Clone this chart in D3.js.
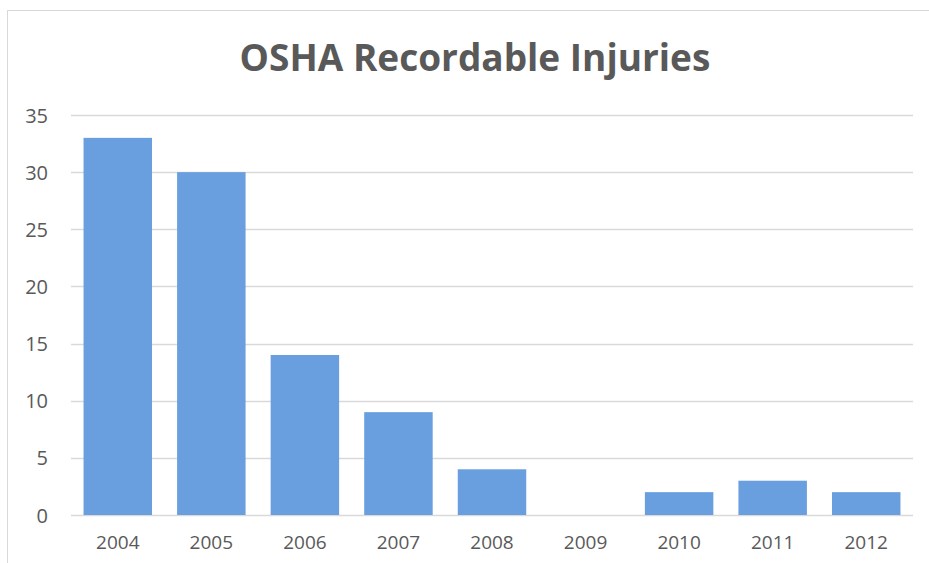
<!DOCTYPE html>
<html>
<head>
<meta charset="utf-8">
<script src="https://cdn.jsdelivr.net/npm/d3@7"></script>
<style>
  body { margin: 0; background: #fff; }
  text { font-family: "Open Sans", sans-serif; fill: #595959; }
</style>
</head>
<body>
<div id="chart"></div>
<script>
// datos
const years = ["2004","2005","2006","2007","2008","2009","2010","2011","2012"]
const injuries = [33, 30, 14, 9, 4, 0, 2, 3, 2]
const yTicks = [0, 5, 10, 15, 20, 25, 30, 35]
const title = "OSHA Recordable Injuries"

const ancho = 929
const alto = 563
const margen = { superior: 115, inferior: 48, izquierdo: 71, derecho: 16 }

const svg = d3.select("#chart").append("svg").attr("width", ancho).attr("height", alto)

// marco del grafico
svg.append("rect")
  .attr("x", 7.5).attr("y", 10.5)
  .attr("width", 940).attr("height", 600)
  .attr("fill", "none").attr("stroke", "#d9d9d9").attr("stroke-width", 1)

svg.append("text")
  .attr("x", 475).attr("y", 71)
  .attr("text-anchor", "middle")
  .style("font-size", "37px").style("font-weight", "bold")
  .text(title)

const x = d3.scaleBand().domain(years)
  .range([margen.izquierdo, ancho - margen.derecho])
  .paddingInner(0.268).paddingOuter(0.134)
const y = d3.scaleLinear().domain([0, 35])
  .range([alto - margen.inferior, margen.superior])

// rejilla
svg.append("g").selectAll("line").data(yTicks).enter().append("line")
  .attr("x1", margen.izquierdo).attr("x2", ancho - margen.derecho)
  .attr("y1", d => Math.round(y(d)) + 0.5).attr("y2", d => Math.round(y(d)) + 0.5)
  .attr("stroke", "#d9d9d9").attr("stroke-width", 1.3)

// etiquetas eje y
const ejeY = d3.axisLeft(y).tickValues(yTicks).tickSize(0).tickPadding(0)
svg.append("g").attr("transform", `translate(48, 0)`).call(ejeY)
  .call(g => g.select(".domain").remove())
  .selectAll("text").style("font-size", "20px").attr("dy", "0.35em")

// barras
svg.append("g").selectAll("rect").data(injuries).enter().append("rect")
  .attr("x", (d, i) => x(years[i]))
  .attr("y", d => y(d))
  .attr("width", x.bandwidth())
  .attr("height", d => y(0) - y(d))
  .attr("fill", "#6a9fdf")

// etiquetas eje x
const ejeX = d3.axisBottom(x).tickSize(0).tickPadding(0)
svg.append("g").attr("transform", `translate(0, ${alto - margen.inferior + 20})`).call(ejeX)
  .call(g => g.select(".domain").remove())
  .selectAll("text").style("font-size", "19px").attr("dy", "0.71em")
</script>
</body>
</html>
